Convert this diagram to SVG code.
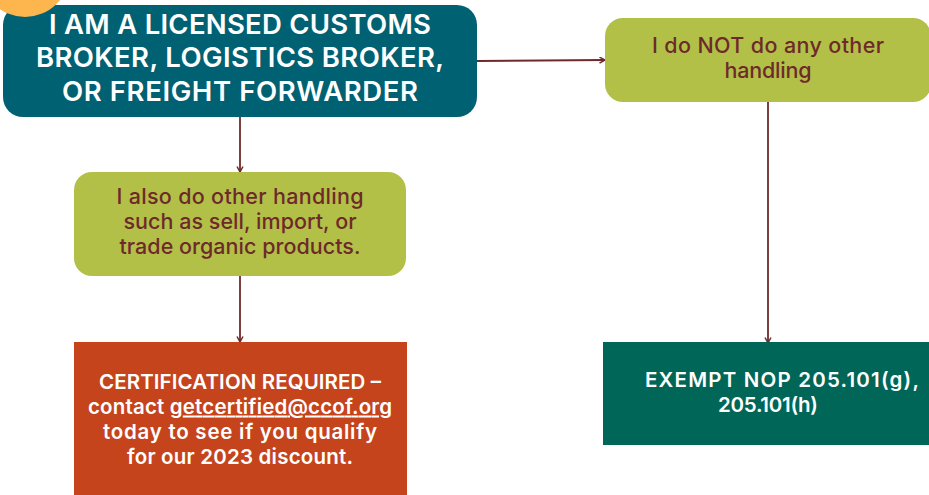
<svg xmlns="http://www.w3.org/2000/svg" width="929" height="495" viewBox="0 0 929 495">
<defs>
<marker id="arr" markerWidth="8" markerHeight="8" refX="6" refY="3.5" orient="auto" markerUnits="userSpaceOnUse"><path d="M0.5 0.5L6 3.5L0.5 6.500" fill="none" stroke="#6e2a2a" stroke-width="1.500"/></marker>
</defs>
<style>
text{font-family:"Inter","Noto Sans",sans-serif;text-anchor:middle;font-weight:500}
.a{font-size:27.500px;fill:#fff;font-weight:600}
.b{font-size:21.500px;fill:#6e2a2a}
.c{font-size:20.500px;fill:#fff;font-weight:600}
.l{fill:none;stroke:#6e2a2a;stroke-width:1.800;marker-end:url(#arr)}
</style>
<rect width="929" height="495" fill="#fff"/>
<g id="connectors">
<path class="l" d="M477 61L605 60"/>
<path class="l" d="M240 117V172"/>
<path class="l" d="M240 276V342"/>
<path class="l" d="M768 102V343"/>
</g>
<g id="n1"><rect x="3" y="5" width="474" height="112" rx="20" fill="#006173"/>
<circle cx="25" cy="-27.500" r="44.500" fill="#fdb54e"/>
<text class="a" x="240" y="34" textLength="382">I AM A LICENSED CUSTOMS</text><text class="a" x="240" y="67" textLength="408">BROKER, LOGISTICS BROKER,</text><text class="a" x="240" y="101" textLength="356">OR FREIGHT FORWARDER</text></g>
<g id="n2"><rect x="605" y="18" width="326" height="84" rx="18" fill="#b2c048"/>
<text class="b" x="768" y="53" textLength="232">I do NOT do any other</text><text class="b" x="768" y="78" textLength="87">handling</text></g>
<g id="n3"><rect x="74" y="172" width="332" height="104" rx="18" fill="#b2c048"/>
<text class="b" x="240" y="204" textLength="247">I also do other handling</text><text class="b" x="240" y="229" textLength="233">such as sell, import, or</text><text class="b" x="240" y="254" textLength="241">trade organic products.</text></g>
<g id="n4"><rect x="74" y="342" width="333" height="153" fill="#c5441c"/>
<text class="c" x="240" y="388.500" textLength="282">CERTIFICATION REQUIRED –</text><text class="c" x="240" y="413.500" textLength="304">contact <tspan text-decoration="underline">getcertified@ccof.org</tspan></text><text class="c" x="240" y="438.500" textLength="274">today to see if you qualify</text><text class="c" x="240" y="463.500" textLength="226">for our 2023 discount.</text></g>
<g id="n5"><rect x="603" y="342" width="326" height="103" fill="#006657"/>
<text class="c" x="782" y="386.500" textLength="274">EXEMPT NOP 205.101(g),</text><text class="c" x="768" y="411.500" textLength="100">205.101(h)</text></g>
</svg>
